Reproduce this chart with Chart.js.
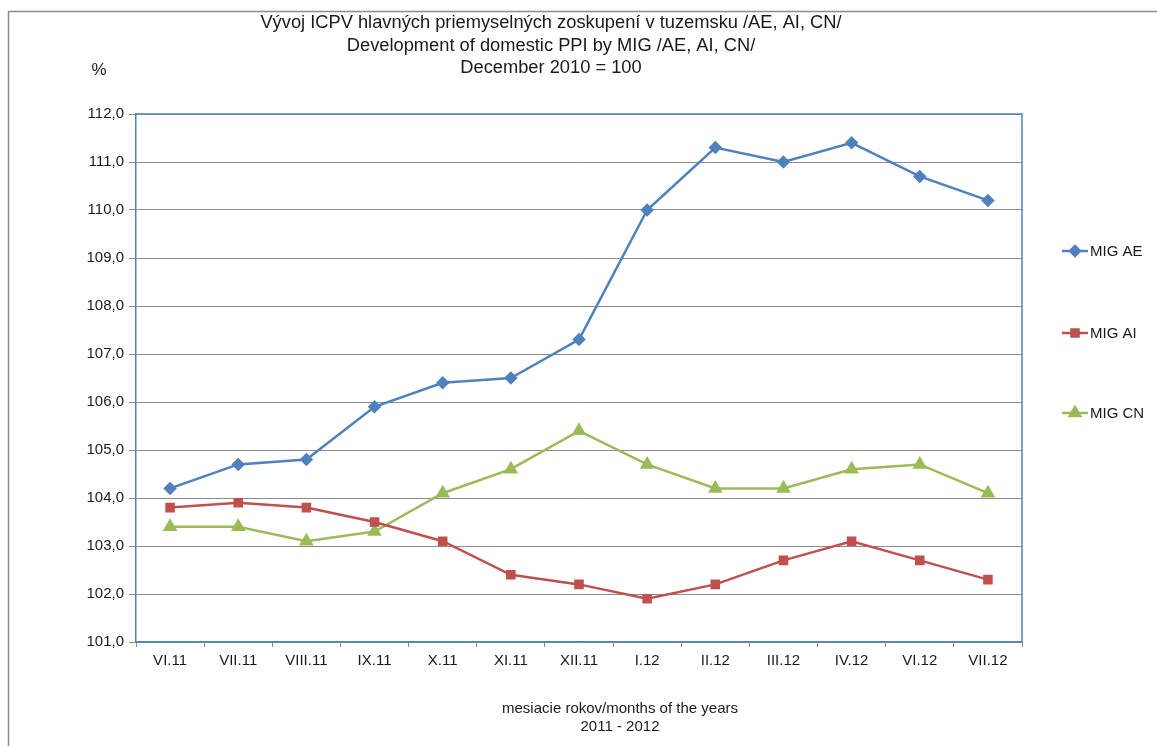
<!DOCTYPE html>
<html>
<head>
<meta charset="utf-8">
<script src="https://cdn.jsdelivr.net/npm/chart.js@4/dist/chart.umd.min.js"></script>
<style>
html,body{margin:0;padding:0;background:#fff;}
#wrap{position:relative;width:1157px;height:746px;}
</style>
</head>
<body>
<div id="wrap"><canvas id="c" width="1157" height="746"></canvas></div>
<script>
const categories = ["VI.11","VII.11","VIII.11","IX.11","X.11","XI.11","XII.11","I.12","II.12","III.12","IV.12","VI.12","VII.12"];
const migAE = [104.2,104.7,104.8,105.9,106.4,106.5,107.3,110.0,111.3,111.0,111.4,110.7,110.2];
const migAI = [103.8,103.9,103.8,103.5,103.1,102.4,102.2,101.9,102.2,102.7,103.1,102.7,102.3];
const migCN = [103.4,103.4,103.1,103.3,104.1,104.6,105.4,104.7,104.2,104.2,104.6,104.7,104.1];
const titleLines = ["Vývoj ICPV hlavných priemyselných zoskupení v tuzemsku /AE, AI, CN/","Development of domestic PPI by MIG /AE, AI, CN/","December 2010 = 100"];
const xTitleLines = ["mesiacie rokov/months of the years","2011 - 2012"];
const yUnit = "%";
const yMin = 101, yMax = 112, yStep = 1;

const FONT = "'Liberation Sans', Arial, sans-serif";
const BLUE = '#4F81BD', RED = '#C0504D', GREEN = '#9BBB59';
const TXT = '#1a1a1a';

const series = [
  {label:'MIG AE', data: migAE, color: BLUE, style:'rectRot', r:5},
  {label:'MIG AI', data: migAI, color: RED, style:'rect', r:5},
  {label:'MIG CN', data: migCN, color: GREEN, style:'triangle', r:6}
];

const deco = {
  id:'deco',
  beforeDraw(chart){
    const ctx = chart.ctx;
    ctx.save();
    ctx.fillStyle='#fff';
    ctx.fillRect(0,0,chart.width,chart.height);
    ctx.strokeStyle='#8c8c8c';
    ctx.lineWidth=1.5;
    ctx.beginPath();
    ctx.moveTo(8.5,760); ctx.lineTo(8.5,11.5); ctx.lineTo(1170,11.5);
    ctx.stroke();
    ctx.restore();
  },
  afterDraw(chart){
    const ctx = chart.ctx;
    const a = chart.chartArea;
    ctx.save();
    ctx.strokeStyle = BLUE; ctx.lineWidth = 1.5;
    ctx.beginPath();
    ctx.moveTo(a.left, a.top); ctx.lineTo(a.right, a.top); ctx.lineTo(a.right, a.bottom);
    ctx.stroke();
    ctx.fillStyle=TXT;
    ctx.textAlign='center'; ctx.textBaseline='middle';
    ctx.font = '18.3px ' + FONT;
    const tys = [23,46,68];
    titleLines.forEach((t,i)=>ctx.fillText(t, 551, tys[i]));
    ctx.font = '17px ' + FONT;
    ctx.fillText(yUnit, 99, 70);
    ctx.font = '15px ' + FONT;
    const xys = [709,727];
    xTitleLines.forEach((t,i)=>ctx.fillText(t, 620, xys[i]));
    const ly = [251,333,413];
    series.forEach((s,i)=>{
      const y = ly[i];
      ctx.strokeStyle = s.color; ctx.lineWidth = 2.5;
      ctx.beginPath(); ctx.moveTo(1062,y); ctx.lineTo(1088,y); ctx.stroke();
      ctx.fillStyle = s.color;
      Chart.helpers.drawPoint(ctx, {pointStyle:s.style, radius:s.r, borderWidth:1}, 1075, y);
      ctx.fillStyle=TXT;
      ctx.textAlign='left';
      ctx.font = '15px ' + FONT;
      ctx.fillText(s.label, 1090, y+1);
    });
    ctx.restore();
  }
};

new Chart(document.getElementById('c'), {
  type:'line',
  data:{
    labels: categories,
    datasets: series.map(s=>({
      label:s.label, data:s.data,
      borderColor:s.color, backgroundColor:s.color,
      pointStyle:s.style, pointRadius:s.r, pointHoverRadius:s.r,
      pointBorderColor:s.color, pointBackgroundColor:s.color,
      borderWidth:2.5, tension:0, fill:false
    }))
  },
  options:{
    responsive:false, animation:false, devicePixelRatio:1,
    layout:{padding:{left:0, top:114, right:135, bottom:0}},
    plugins:{legend:{display:false}, title:{display:false}, tooltip:{enabled:false}},
    scales:{
      x:{
        type:'category', offset:true,
        grid:{offset:true, drawOnChartArea:false, drawTicks:true, tickLength:5, color:'#8c8c8c'},
        border:{color:BLUE, width:1.5},
        ticks:{color:TXT, font:{family:FONT, size:15}, padding:5, maxRotation:0, autoSkip:false},
        afterFit(s){ s.height = 104; }
      },
      y:{
        min:yMin, max:yMax,
        grid:{color:'#8c8c8c', lineWidth:1, tickLength:7},
        border:{color:BLUE, width:1.5},
        ticks:{stepSize:yStep, color:TXT, font:{family:FONT, size:15}, padding:5,
          callback:v=>Number(v).toFixed(1).replace('.',',')},
        afterFit(s){ s.width = 136; }
      }
    }
  },
  plugins:[deco]
});
</script>
</body>
</html>
